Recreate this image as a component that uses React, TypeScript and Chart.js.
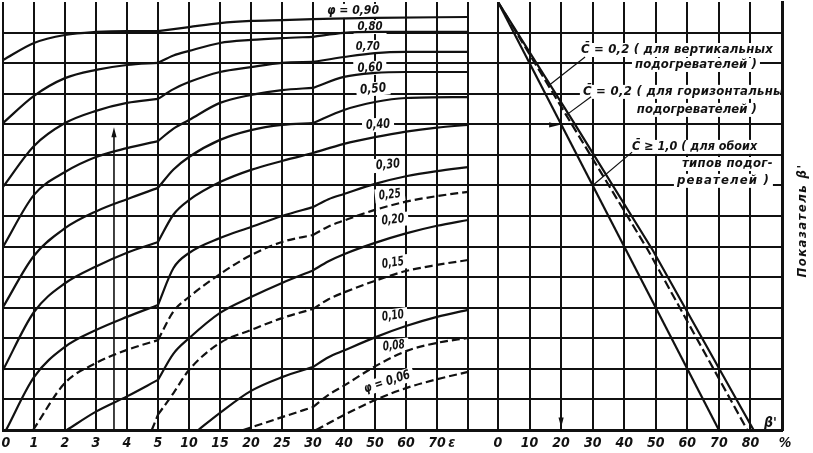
import React, { useEffect, useRef } from "react";
import { Chart, registerables } from "chart.js";

Chart.register(...registerables);

// ---------------- data ----------------
// Left panel: ε scale is stepwise (one grid column per label)
const epsTickLabels = ["0", "1", "2", "3", "4", "5", "10", "15", "20", "25", "30", "40", "50", "60", "70"];
const epsUnitLabel = "ε";
// Right panel: β', %
const betaTickValues = [0, 10, 20, 30, 40, 50, 60, 70, 80];
const betaUnitLabel = "%";

// φ curves: [ε column, ordinate in grid rows]
const phi090 = [[0, 12.1], [1, 12.66], [2, 12.92], [3, 13.02], [4, 13.05], [5, 13.05], [6, 13.18], [7, 13.31], [8, 13.38], [9, 13.41], [10, 13.44], [12, 13.48], [15, 13.51]];
const phi080 = [[0, 10.04], [1, 10.93], [2, 11.51], [3, 11.78], [4, 11.94], [5, 12.01], [5.5, 12.25], [6, 12.4], [7, 12.66], [8, 12.76], [9, 12.82], [10, 12.86], [11, 12.99], [12, 13.02], [15, 13.02]];
const phi070 = [[0, 7.95], [1, 9.29], [2, 10.04], [3, 10.44], [4, 10.7], [5, 10.83], [5.5, 11.15], [6, 11.38], [7, 11.71], [8, 11.87], [9, 12.01], [10, 12.04], [11, 12.2], [12, 12.33], [13, 12.37], [15, 12.37]];
const phi060 = [[0, 5.99], [1, 7.69], [2, 8.44], [3, 8.93], [4, 9.22], [5, 9.45], [5.5, 9.86], [6, 10.14], [7, 10.7], [8, 10.96], [9, 11.12], [10, 11.19], [11, 11.55], [12, 11.68], [13, 11.71], [15, 11.71]];
const phi050 = [[0, 4.02], [1, 5.7], [2, 6.6], [3, 7.15], [4, 7.55], [5, 7.92], [5.5, 8.52], [6, 8.93], [7, 9.49], [8, 9.81], [9, 9.98], [10, 10.04], [11, 10.47], [12, 10.73], [13, 10.86], [15, 10.89]];
const phi040 = [[0, 1.96], [1, 3.86], [2, 4.8], [3, 5.35], [4, 5.8], [5, 6.15], [5.5, 7.05], [6, 7.52], [7, 8.11], [8, 8.51], [9, 8.8], [10, 9.06], [11, 9.36], [12, 9.58], [13, 9.76], [14, 9.89], [15, 9.98]];
const phi030 = [[0.1, 0], [1, 1.73], [2, 2.72], [3, 3.27], [4, 3.7], [5, 4.09], [5.5, 5.3], [6, 5.79], [7, 6.28], [8, 6.64], [9, 7.0], [10, 7.29], [10.5, 7.55], [11, 7.72], [12, 8.05], [13, 8.3], [14, 8.47], [15, 8.6]];
const phi025 = [[0.97, 0], [2, 1.54], [3, 2.19], [4, 2.62], [5, 2.94], [5.5, 3.88], [6, 4.35], [7, 5.1], [8, 5.72], [9, 6.15], [10, 6.38], [10.5, 6.66], [11, 6.85], [12, 7.2], [13, 7.47], [14, 7.65], [15, 7.79]];
const phi020 = [[2.06, 0], [3, 0.6], [4, 1.1], [5, 1.64], [5.5, 2.5], [6, 3.0], [7, 3.83], [8, 4.35], [9, 4.81], [10, 5.22], [10.5, 5.52], [11, 5.75], [12, 6.12], [13, 6.43], [14, 6.68], [15, 6.87]];
const phi015 = [[4.8, 0], [5, 0.5], [5.5, 1.21], [6, 1.96], [7, 2.85], [8, 3.27], [9, 3.66], [10, 3.96], [10.5, 4.28], [11, 4.5], [12, 4.88], [13, 5.2], [14, 5.4], [15, 5.56]];
const phi010 = [[6.3, 0], [7, 0.56], [8, 1.28], [9, 1.73], [10, 2.06], [10.5, 2.38], [11, 2.6], [12, 3.03], [13, 3.4], [14, 3.7], [15, 3.93]];
const phi008 = [[7.75, 0], [9, 0.42], [10, 0.75], [10.5, 1.15], [11, 1.45], [12, 2.08], [13, 2.58], [14, 2.85], [15, 3.01]];
const phi006 = [[10.1, 0], [11, 0.49], [12, 0.98], [13, 1.37], [14, 1.66], [15, 1.9]];

const phiLabels = ["φ = 0,90", "0,80", "0,70", "0,60", "0,50", "0,40", "0,30", "0,25", "0,20", "0,15", "0,10", "0,08", "φ = 0,06"];
const phiSeries = [phi090, phi080, phi070, phi060, phi050, phi040, phi030, phi025, phi020, phi015, phi010, phi008, phi006];
const phiDashed = [false, false, false, false, false, false, false, true, false, true, false, true, true];

// Right panel lines: [β' %, ordinate]
const betaAllTypes = [[0, 14], [70, 0]]; // C ≥ 1,0
const betaHorizontal = [[0, 14], [23.5, 9.98], [47.5, 5.89], [79, 0]]; // C = 0,2 horizontal (dashed)
const betaVertical = [[0, 14], [24.5, 9.98], [49, 5.89], [81, 0]]; // C = 0,2 vertical

const rightTexts = [
  "C\u0304 = 0,2 ( для вертикальных",
  "подогревателей )",
  "C\u0304 = 0,2 ( для горизонтальных",
  "подогревателей )",
  "C\u0304 ≥ 1,0 ( для обоих",
  "типов подог-",
  "ревателей )",
];
const axisTitle = "Показатель β'";
const betaMark = "β'";

// example key: ε column, row, β'
const exampleEps = 3.58;
const exampleRow = 9.9;
const exampleBeta = 20;

// ---------------- layout (placement only) ----------------
const phiLabelPlace = [
  [11.29, 13.71, 0, 52], [11.84, 13.18, 0, 25], [11.77, 12.53, 0, 24], [11.84, 11.84, -3, 25],
  [11.94, 11.15, -6, 26], [12.1, 9.98, -4, 24], [12.42, 8.67, -5, 24], [12.48, 7.69, -6, 22],
  [12.58, 6.87, -6, 23], [12.58, 5.46, -8, 22], [12.58, 3.73, -8, 22], [12.61, 2.75, -6, 22],
  [12.39, 1.57, -18, 48],
];
const rightTextPlace = [
  [26.3, 12.43, 192], [43.4, 11.94, 122], [26.9, 11.06, 209], [44.0, 10.47, 120],
  [42.5, 9.26, 125], [58.3, 8.7, 91], [56.7, 8.15, 93],
];
const leaders = [
  [[27.6, 12.2], [16.5, 11.3]],
  [[29.5, 10.9], [21.6, 10.3]],
  [[42.5, 9.09], [30, 8.0]],
];

const FONT = '"Liberation Sans Narrow", "DejaVu Sans Condensed", "Liberation Sans", "DejaVu Sans", sans-serif';
const INK = "#111";

function charCount(t: string) {
  return t.replace(/\u0304/g, "").length;
}

function fitText(ctx: CanvasRenderingContext2D, text: string, x: number, y: number, width: number) {
  (ctx as any).letterSpacing = "0px";
  const w = ctx.measureText(text).width;
  const n = charCount(text);
  const sp = n > 1 ? (width - w) / n : 0;
  if (sp >= 0) {
    (ctx as any).letterSpacing = sp.toFixed(2) + "px";
    ctx.fillText(text, x, y);
    (ctx as any).letterSpacing = "0px";
  } else {
    ctx.save();
    ctx.translate(x, y);
    ctx.scale(width / w, 1);
    ctx.fillText(text, 0, 0);
    ctx.restore();
  }
}

function arrowHead(ctx: CanvasRenderingContext2D, x: number, y: number, dir: "up" | "down" | "right") {
  const L = 10, H = 2.6;
  ctx.beginPath();
  if (dir === "up") { ctx.moveTo(x, y); ctx.lineTo(x - H, y + L); ctx.lineTo(x + H, y + L); }
  if (dir === "down") { ctx.moveTo(x, y); ctx.lineTo(x - H, y - L); ctx.lineTo(x + H, y - L); }
  if (dir === "right") { ctx.moveTo(x, y); ctx.lineTo(x - L, y - H); ctx.lineTo(x - L, y + H); }
  ctx.closePath();
  ctx.fillStyle = INK;
  ctx.fill();
}

const nomogramPlugin = {
  id: "nomogram",
  beforeDatasetsDraw(chart: any) {
    const { ctx, chartArea } = chart;
    const sx = chart.scales.x, sb = chart.scales.xb, sy = chart.scales.y;
    ctx.save();
    ctx.fillStyle = "#fff";
    phiLabels.forEach((t, k) => {
      const [i, v, rot, w] = phiLabelPlace[k];
      ctx.save();
      ctx.translate(sx.getPixelForValue(i), sy.getPixelForValue(v));
      ctx.rotate((rot * Math.PI) / 180);
      ctx.fillRect(-w / 2 - 4, -7, w + 8, 14);
      ctx.restore();
    });
    ctx.beginPath();
    ctx.rect(chartArea.left, chartArea.top, chartArea.right - chartArea.left - 2, chartArea.bottom - chartArea.top);
    ctx.clip();
    rightTexts.forEach((t, k) => {
      const [b, v, w] = rightTextPlace[k];
      const x = sb.getPixelForValue(b), y = sy.getPixelForValue(v);
      ctx.fillRect(x - 3, y - 7, w + 6, 14);
    });
    ctx.restore();
  },
  afterDatasetsDraw(chart: any) {
    const { ctx, chartArea } = chart;
    const sx = chart.scales.x, sb = chart.scales.xb, sy = chart.scales.y;
    ctx.save();
    ctx.fillStyle = INK;
    ctx.textBaseline = "middle";

    // φ labels
    ctx.font = "italic bold 13px " + FONT;
    ctx.textAlign = "left";
    phiLabels.forEach((t, k) => {
      const [i, v, rot, w] = phiLabelPlace[k];
      ctx.save();
      ctx.translate(sx.getPixelForValue(i), sy.getPixelForValue(v));
      ctx.rotate((rot * Math.PI) / 180);
      fitText(ctx, t, -w / 2, 0, w);
      ctx.restore();
    });

    // right panel notes
    ctx.save();
    ctx.beginPath();
    ctx.rect(chartArea.left, chartArea.top, chartArea.right - chartArea.left - 1, chartArea.bottom - chartArea.top);
    ctx.clip();
    ctx.font = "italic bold 13px " + FONT;
    rightTexts.forEach((t, k) => {
      const [b, v, w] = rightTextPlace[k];
      fitText(ctx, t, sb.getPixelForValue(b), sy.getPixelForValue(v), w);
    });
    ctx.restore();

    // β' mark inside the chart
    ctx.font = "italic bold 14px " + FONT;
    ctx.textAlign = "center";
    ctx.fillText(betaMark, sb.getPixelForValue(86.3), sy.getPixelForValue(0.22));

    // arrows of the key example
    arrowHead(ctx, sx.getPixelForValue(exampleEps), sy.getPixelForValue(exampleRow), "up");
    arrowHead(ctx, sb.getPixelForValue(exampleBeta) - 2, sy.getPixelForValue(9.98), "right");
    arrowHead(ctx, sb.getPixelForValue(exampleBeta), sy.getPixelForValue(0.08), "down");

    // bottom tick labels
    ctx.font = "italic bold 14px " + FONT;
    ctx.textAlign = "center";
    const ty = chartArea.bottom + 13;
    epsTickLabels.forEach((t, i) => {
      const x = sx.getPixelForValue(i) + (i === 0 ? 3 : 0);
      ctx.fillText(t, x, ty);
    });
    ctx.fillText(epsUnitLabel, sx.getPixelForValue(14.48), ty);
    betaTickValues.forEach((b) => ctx.fillText(String(b), sb.getPixelForValue(b), ty));
    ctx.fillText(betaUnitLabel, sb.getPixelForValue(91), ty);

    // right axis title (rotated)
    ctx.save();
    ctx.translate(chartArea.right + 21, sy.getPixelForValue(6.85));
    ctx.rotate(-Math.PI / 2);
    ctx.font = "italic bold 13px " + FONT;
    ctx.textAlign = "left";
    fitText(ctx, axisTitle, -57, 0, 114);
    ctx.restore();

    ctx.restore();
  },
};

function buildDatasets() {
  const ds: any[] = [];
  phiSeries.forEach((pts, k) => {
    const segs = [
      pts.filter((p) => p[0] <= 5),
      pts.filter((p) => p[0] >= 5 && p[0] <= 10),
      pts.filter((p) => p[0] >= 10),
    ];
    segs.forEach((seg) => {
      if (seg.length < 2) return;
      ds.push({
        label: "φ " + phiLabels[k],
        data: seg.map(([x, y]) => ({ x, y })),
        xAxisID: "x",
        yAxisID: "y",
        borderColor: INK,
        borderWidth: 2.2,
        borderDash: phiDashed[k] ? [8, 4] : [],
        pointRadius: 0,
        cubicInterpolationMode: "monotone",
        fill: false,
      });
    });
  });
  const right = [
    { d: betaAllTypes, dash: [] as number[] },
    { d: betaHorizontal, dash: [9, 4] },
    { d: betaVertical, dash: [] as number[] },
  ];
  right.forEach((r) =>
    ds.push({
      data: r.d.map(([x, y]) => ({ x, y })),
      xAxisID: "xb",
      yAxisID: "y",
      borderColor: INK,
      borderWidth: 2.2,
      borderDash: r.dash,
      pointRadius: 0,
      tension: 0,
      fill: false,
    })
  );
  leaders.forEach((l) =>
    ds.push({
      data: l.map(([x, y]) => ({ x, y })),
      xAxisID: "xb",
      yAxisID: "y",
      borderColor: INK,
      borderWidth: 1.2,
      pointRadius: 0,
      tension: 0,
      fill: false,
    })
  );
  ds.push({
    data: [{ x: exampleEps, y: 0 }, { x: exampleEps, y: exampleRow - 0.2 }],
    xAxisID: "x",
    yAxisID: "y",
    borderColor: INK,
    borderWidth: 1.6,
    pointRadius: 0,
    fill: false,
  });
  return ds;
}

const CLEAR = "rgba(0,0,0,0)";

export default function App() {
  const ref = useRef<HTMLCanvasElement>(null);
  useEffect(() => {
    const canvas = ref.current as HTMLCanvasElement;
    const chart = new Chart(canvas, {
      type: "line",
      data: { datasets: buildDatasets() },
      options: {
        responsive: false,
        devicePixelRatio: 1,
        animation: false,
        events: [],
        layout: { padding: { left: 3, right: 31, top: 2, bottom: 23 } },
        plugins: { legend: { display: false }, tooltip: { enabled: false } },
        scales: {
          x: {
            type: "linear",
            position: "bottom",
            min: 0,
            max: 779 / 31,
            ticks: { display: false, stepSize: 1, autoSkip: false },
            grid: {
              drawTicks: false,
              lineWidth: 2,
              color: (c: any) => (c.tick && c.tick.value <= 15.001 ? INK : CLEAR),
            },
            border: { display: true, color: INK, width: 3 },
          },
          xb: {
            type: "linear",
            position: "bottom",
            min: -495 / 3.1556,
            max: 90,
            ticks: { display: false, stepSize: 10, autoSkip: false },
            grid: {
              drawTicks: false,
              lineWidth: 2,
              color: (c: any) => (c.tick && c.tick.value >= -0.01 ? INK : CLEAR),
            },
            border: { display: false },
          },
          y: {
            type: "linear",
            position: "right",
            min: 0,
            max: 14,
            ticks: { display: false, stepSize: 1 },
            grid: {
              drawTicks: false,
              lineWidth: 2,
              color: (c: any) => (c.tick && c.tick.value < 13.99 ? INK : CLEAR),
            },
            border: { display: true, color: INK, width: 3 },
          },
        },
      } as any,
      plugins: [nomogramPlugin],
    });
    return () => chart.destroy();
  }, []);
  return (
    <div style={{ position: "absolute", left: 0, top: 0, width: 813, height: 453, background: "#fff" }}>
      <canvas ref={ref} width={813} height={453} style={{ display: "block", width: 813, height: 453 }} />
    </div>
  );
}
